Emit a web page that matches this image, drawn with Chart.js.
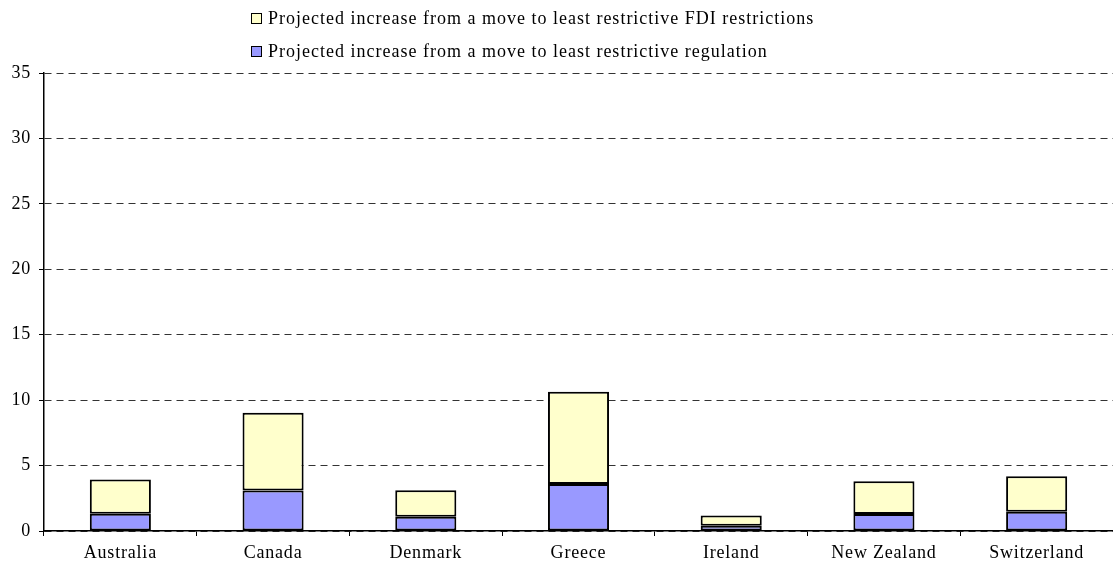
<!DOCTYPE html>
<html>
<head>
<meta charset="utf-8">
<script src="https://cdn.jsdelivr.net/npm/chart.js@4"></script>
<style>
  html, body { margin: 0; padding: 0; background: #fff; }
  #wrap { position: relative; width: 1113px; height: 569px; }
  #legend {
    position: absolute; left: 251px; top: 5px;
    font-family: 'Liberation Serif', 'Times New Roman', serif;
    font-size: 18px; letter-spacing: 1px; color: #000;
  }
  .item { display: flex; align-items: center; height: 26px; margin-bottom: 7px; }
  .swatch { width: 9px; height: 9px; border: 1.5px solid #000; margin-right: 6px; }
</style>
</head>
<body>
<div id="wrap">
  <canvas id="chart" width="1113" height="569"></canvas>
  <div id="legend"></div>
</div>
<script>
const countries = ['Australia', 'Canada', 'Denmark', 'Greece', 'Ireland', 'New Zealand', 'Switzerland'];
// bottom segment
const regulation = [1.32, 3.09, 1.09, 3.6, 0.4, 1.29, 1.47];
// top segment
const fdi = [2.61, 5.95, 2.02, 7.05, 0.79, 2.51, 2.71];
const yTicks = [0, 5, 10, 15, 20, 25, 30, 35];

const seriesNames = [
    'Projected increase from a move to least restrictive regulation',
    'Projected increase from a move to least restrictive FDI restrictions'
];
const seriesColors = ['#9999FF', '#FFFFCC'];

const serif = "'Liberation Serif', 'Times New Roman', serif";

// legend lists FDI first, like the original
const legendEl = document.getElementById('legend');
[1, 0].forEach(i => {
    const row = document.createElement('div');
    row.className = 'item';
    const sw = document.createElement('span');
    sw.className = 'swatch';
    sw.style.background = seriesColors[i];
    const txt = document.createElement('span');
    txt.textContent = seriesNames[i];
    row.appendChild(sw);
    row.appendChild(txt);
    legendEl.appendChild(row);
});

// the original text is set a bit loose; canvas state is reset on resize, so set it each pass
const looseText = {
    id: 'looseText',
    beforeUpdate(chart) { chart.ctx.letterSpacing = '0.8px'; },
    beforeDraw(chart) { chart.ctx.letterSpacing = '0.8px'; }
};

const ctx = document.getElementById('chart').getContext('2d');
new Chart(ctx, {
    type: 'bar',
    data: {
        labels: countries,
        datasets: [{
            label: seriesNames[0],
            data: regulation,
            backgroundColor: seriesColors[0],
            borderColor: '#000',
            borderWidth: 2,
            borderSkipped: false
        }, {
            label: seriesNames[1],
            data: fdi,
            backgroundColor: seriesColors[1],
            borderColor: '#000',
            borderWidth: 2,
            borderSkipped: false
        }]
    },
    plugins: [looseText],
    options: {
        responsive: false,
        animation: false,
        layout: { padding: { top: 73, right: 0, left: 0, bottom: 0 } },
        datasets: { bar: { barPercentage: 0.4, categoryPercentage: 1 } },
        plugins: {
            legend: { display: false },
            tooltip: { enabled: false }
        },
        scales: {
            x: {
                stacked: true,
                afterFit: s => { s.height = 38; },
                grid: {
                    offset: true,
                    drawOnChartArea: false,
                    tickLength: 5,
                    color: '#000'
                },
                border: { color: '#000', width: 1.5 },
                ticks: {
                    color: '#000',
                    padding: 6,
                    font: { family: serif, size: 18 }
                }
            },
            y: {
                stacked: true,
                min: 0,
                max: 35,
                afterFit: s => { s.width = 44; },
                afterBuildTicks: s => { s.ticks = yTicks.map(v => ({ value: v })); },
                grid: {
                    color: '#333',
                    tickLength: 5,
                    tickColor: '#000'
                },
                border: { color: '#000', width: 1.5, dash: [7, 5] },
                ticks: {
                    color: '#000',
                    padding: 8,
                    font: { family: serif, size: 18 }
                }
            }
        }
    }
});
</script>
</body>
</html>
